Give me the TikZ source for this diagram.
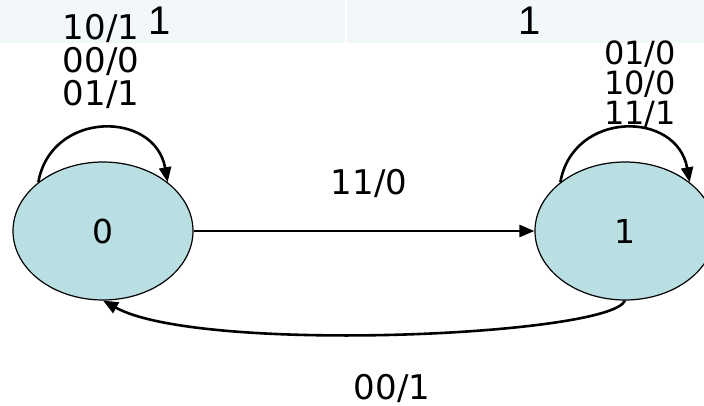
\documentclass[tikz,border=0pt]{standalone}
\usepackage{fontspec}
\setmainfont{DejaVu Sans}
\newfontfamily\arialfont{Liberation Sans}
\usetikzlibrary{arrows.meta, shapes.geometric}
\definecolor{bandeau}{HTML}{F2F7FA}
\definecolor{remplissage}{HTML}{B9DFE3}
\begin{document}
\begin{tikzpicture}[x=1pt,y=1pt]
\tikzset{etat/.style={draw, ellipse, fill=remplissage, line width=1.2pt, minimum width=180pt, minimum height=138pt, font=\fontsize{33}{33}\selectfont},
         fleche/.style={line width=2.6pt, -{Triangle[length=15pt,width=12pt]}},
         etiquette/.style={inner sep=0pt, align=center, font=\fontsize{34}{33}\selectfont}}
\useasboundingbox (0, 0) rectangle (704, 406);
\clip (0, 0) rectangle (704, 406);
\fill[bandeau] (0, 363) rectangle (704, 406);
\draw[white, line width=2pt] (346, 363) -- (346, 406);
\node[inner sep=0pt, font=\arialfont\fontsize{40}{40}\selectfont] (T1) at (160, 385) {1};
\node[inner sep=0pt, font=\arialfont\fontsize{40}{40}\selectfont] (T2) at (530, 385) {1};
\node[etat] (S0) at (103, 175) {0};
\node[etat] (S1) at (625, 175) {1};
\node[etiquette, anchor=north] (L0) at (101, 392) {10/1\\00/0\\01/1};
\node[etiquette, anchor=north, font=\fontsize{32}{30}\selectfont] (L1) at (640, 365) {01/0\\10/0\\11/1};
\node[etiquette] (L01) at (369, 223) {11/0};
\node[etiquette] (L10) at (392, 18) {00/1};
\draw[fleche] (S0.143) to[out=80, in=100, looseness=1.45] (S0.37);
\draw[fleche] (S1.143) to[out=80, in=100, looseness=1.45] (S1.37);
\draw[fleche] (S0) -- (S1);
\draw[fleche] (S1.south) .. controls (610, 70) and (200, 52) .. (S0.south);
\end{tikzpicture}
\end{document}
